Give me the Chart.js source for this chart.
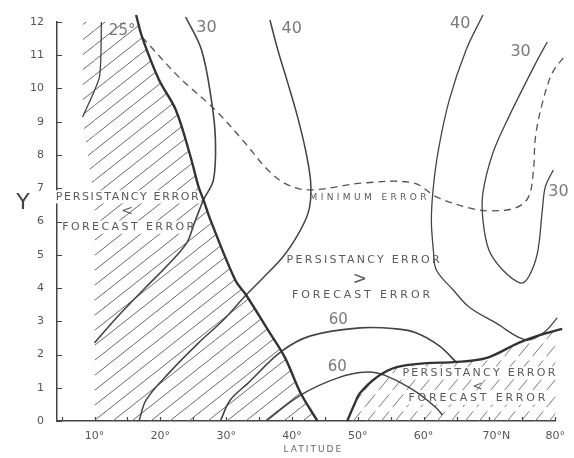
<!DOCTYPE html>
<html lang="en">
<head>
<meta charset="utf-8">
<title>Persistency error vs forecast error</title>
<script src="https://cdn.jsdelivr.net/npm/chart.js@4.4.1/dist/chart.umd.min.js"></script>
<style>
  html, body { margin: 0; padding: 0; background: #fff; }
  canvas { display: block; }
</style>
</head>
<body>
<canvas id="errorChart" width="574" height="458"></canvas>
<script>
// axis ticks
const latTicks = [10, 20, 30, 40, 50, 60, 70, 80];
const latTickLabels = ['10°', '20°', '30°', '40°', '50°', '60°', '70°N', '80°'];
const latMinorTicks = [5, 15, 25, 35, 45, 55, 65, 75];

// curves as [latitude, Y] pairs
const westBoundary = [[16.32, 12.21], [17.22, 11.55], [19.79, 10.26], [22.34, 9.36], [24.6, 7.94],
  [25.81, 7.04], [26.56, 6.65], [27.61, 6.05], [31.38, 4.24], [33.03, 3.79], [36.34, 2.74],
  [38.9, 1.92], [41.31, 0.84], [43.87, 0]];
const eastBoundary = [[48.39, 0], [49.44, 0.48], [50.34, 0.84], [52.9, 1.32], [55.91, 1.62],
  [60.43, 1.74], [64.5, 1.77], [69.46, 1.89], [74.43, 2.35], [77.74, 2.59], [81.06, 2.77]];
const hatchWestCore = [[10, 0], [10, 6.6], [10, 12.3]];
const hatchWestSliver = [[8.2, 12.3], [8.2, 9.1], [10, 6.6]];

const contour25 = [[11.05, 12.0], [10.75, 10.35], [8.19, 9.14]];
const contour30West = [[23.85, 12.15], [26.26, 11.16], [27.76, 9.65], [28.37, 8.45], [28.07, 7.25],
  [26.56, 6.65], [25.05, 5.89], [24.0, 5.35], [20.84, 4.63], [17.83, 4.03], [13.31, 3.1], [10.0, 2.35]];
const contour40West = [[36.65, 12.06], [37.85, 11.16], [39.36, 10.17], [40.86, 9.14], [42.06, 8.15],
  [42.82, 7.25], [42.82, 6.65], [42.37, 6.2], [40.86, 5.59], [38.6, 4.93], [35.59, 4.3], [33.03, 3.79],
  [29.57, 3.04], [25.81, 2.35], [21.29, 1.44], [17.83, 0.63], [16.77, 0]];
const contour40East = [[69.01, 12.21], [66.45, 11.16], [63.89, 9.65], [62.24, 8.15], [61.48, 7.04],
  [61.18, 6.05], [61.48, 5.14], [61.94, 4.54], [64.5, 3.94], [66.9, 3.43], [70.97, 2.95],
  [75.48, 2.44], [78.2, 2.65], [80.3, 3.1]];
const contour30East = [[78.79, 11.4], [77.29, 10.86], [72.93, 9.14], [70.52, 8.06], [69.01, 6.86],
  [69.01, 6.05], [69.92, 5.14], [72.02, 4.54], [74.73, 4.15], [75.94, 4.33], [77.29, 5.05],
  [78.04, 6.35], [78.49, 7.04], [79.7, 7.55]];
const contour60Upper = [[29.12, 0], [30.62, 0.63], [33.33, 1.14], [38.3, 2.08], [42.82, 2.56],
  [50.34, 2.8], [55.91, 2.77], [58.92, 2.65], [62.39, 2.26], [64.95, 1.77]];
const contour60Lower = [[36.04, 0], [41.31, 0.78], [46.88, 1.29], [51.4, 1.47], [54.4, 1.35],
  [58.92, 0.87], [61.94, 0.39], [62.85, 0.18]];
const minimumError = [[17.22, 11.55], [22.8, 10.35], [28.37, 9.35], [32.88, 8.36], [36.34, 7.55],
  [39.36, 7.1], [42.82, 6.95], [50.95, 7.16], [58.47, 7.16], [61.94, 6.74], [66.9, 6.41],
  [69.92, 6.32], [73.98, 6.41], [75.94, 6.74], [76.69, 7.55], [76.99, 8.54], [78.04, 9.56],
  [79.55, 10.47], [81.21, 10.92]];

// text placed on the figure (latitude, Y)
const notes = [
  { text: 'PERSISTANCY ERROR', lat: 14.97, y: 6.74, w: 143, size: 11, box: true },
  { text: '<', lat: 14.97, y: 6.32, size: 14 },
  { text: 'FORECAST ERROR', lat: 15.12, y: 5.83, w: 132, size: 11, box: true },
  { text: 'MINIMUM ERROR', lat: 51.55, y: 6.71, w: 117, size: 9 },
  { text: 'PERSISTANCY ERROR', lat: 50.8, y: 4.84, w: 153, size: 11 },
  { text: '>', lat: 50.3, y: 4.24, size: 17 },
  { text: 'FORECAST ERROR', lat: 50.5, y: 3.79, w: 138, size: 11 },
  { text: 'PERSISTANCY ERROR', lat: 68.4, y: 1.44, w: 153, size: 11, box: true },
  { text: '<', lat: 68.2, y: 1.02, size: 12 },
  { text: 'FORECAST ERROR', lat: 68.1, y: 0.69, w: 137, size: 11, box: true },
  { text: '25°', lat: 14.2, y: 11.73, size: 15, light: true },
  { text: '30', lat: 27.0, y: 11.82, size: 16, light: true },
  { text: '40', lat: 39.96, y: 11.8, size: 16, light: true },
  { text: '40', lat: 65.55, y: 11.94, size: 16, light: true },
  { text: '30', lat: 74.73, y: 11.1, size: 16, light: true },
  { text: '30', lat: 80.5, y: 6.89, size: 16, light: true },
  { text: '60', lat: 47.03, y: 3.04, size: 15, light: true },
  { text: '60', lat: 46.88, y: 1.62, size: 15, light: true }
];

function hatchPattern(w, h, broken, color) {
  const tile = document.createElement('canvas');
  tile.width = w;
  tile.height = h;
  const g = tile.getContext('2d');
  g.strokeStyle = color;
  g.lineWidth = 1;
  g.beginPath();
  if (broken) {
    g.moveTo(w * 0.05, h * 0.95);
    g.lineTo(w * 0.8, h * 0.2);
  } else {
    g.moveTo(-1, h + h / w);
    g.lineTo(w + 1, -h / w);
  }
  g.stroke();
  return g.createPattern(tile, 'repeat');
}

const westHatch = hatchPattern(19, 15, false, '#686868');
const eastHatch = hatchPattern(14, 17, true, '#777');

const pts = arr => arr.map(([x, y]) => ({ x: x, y: y }));
const curve = (arr, extra) => Object.assign({
  data: pts(arr),
  borderColor: '#444',
  borderWidth: 1.3,
  pointRadius: 0,
  tension: 0.35,
  fill: false,
  clip: false
}, extra);

const FONT = '"DejaVu Sans", Arial, sans-serif';

const decor = {
  id: 'decor',
  beforeDatasetsDraw(chart) {
    const { ctx, scales: { x, y } } = chart;
    ctx.save();
    ctx.fillStyle = '#fff';
    notes.filter(n => n.box).forEach(n => {
      const px = x.getPixelForValue(n.lat);
      const py = y.getPixelForValue(n.y);
      ctx.fillRect(px - n.w / 2 - 2, py - 6.5, n.w + 4, 13);
    });
    ctx.restore();
  },
  afterDatasetsDraw(chart) {
    const { ctx, chartArea, scales: { x, y } } = chart;
    ctx.save();
    ctx.textBaseline = 'middle';
    notes.forEach(n => {
      const px = x.getPixelForValue(n.lat);
      const py = y.getPixelForValue(n.y);
      ctx.font = n.size + 'px ' + FONT;
      ctx.fillStyle = n.light ? '#7a7a7a' : '#5a5a5a';
      if (n.w) {
        ctx.letterSpacing = '0px';
        const plain = ctx.measureText(n.text).width;
        const gap = (n.w - plain) / (n.text.length - 1);
        ctx.letterSpacing = gap + 'px';
        ctx.textAlign = 'left';
        ctx.fillText(n.text, px - n.w / 2, py);
        ctx.letterSpacing = '0px';
      } else {
        ctx.textAlign = 'center';
        ctx.fillText(n.text, px, py);
      }
    });

    // inward tick marks
    ctx.strokeStyle = '#444';
    ctx.lineWidth = 1.2;
    ctx.beginPath();
    for (let v = 0; v <= 12; v++) {
      const py = Math.round(y.getPixelForValue(v)) + 0.5;
      ctx.moveTo(chartArea.left, py);
      ctx.lineTo(chartArea.left + 5, py);
    }
    latTicks.concat(latMinorTicks).forEach(v => {
      const px = Math.round(x.getPixelForValue(v)) + 0.5;
      ctx.moveTo(px, chartArea.bottom);
      ctx.lineTo(px, chartArea.bottom - 4);
    });
    ctx.stroke();

    // axis titles
    ctx.fillStyle = '#444';
    ctx.textAlign = 'center';
    ctx.font = '22px ' + FONT;
    ctx.fillText('Y', chartArea.left - 34, y.getPixelForValue(6.56));
    ctx.font = '9px ' + FONT;
    ctx.fillStyle = '#666';
    ctx.letterSpacing = '2px';
    ctx.fillText('LATITUDE', x.getPixelForValue(43.1) + 1, chartArea.bottom + 29);
    ctx.restore();
  }
};

new Chart(document.getElementById('errorChart'), {
  type: 'line',
  data: {
    datasets: [
      curve(hatchWestCore.concat(westBoundary), {
        borderColor: 'transparent', borderWidth: 0, backgroundColor: westHatch, fill: 'origin'
      }),
      curve(hatchWestSliver, {
        borderColor: 'transparent', borderWidth: 0, backgroundColor: westHatch, fill: 'end', tension: 0
      }),
      curve(eastBoundary, { borderColor: '#333', borderWidth: 2.4, backgroundColor: eastHatch, fill: 'origin' }),
      curve(westBoundary, { borderColor: '#333', borderWidth: 2.4 }),
      curve(contour25, { tension: 0.2 }),
      curve(contour30West, { borderWidth: 1.6 }),
      curve(contour40West, { borderWidth: 1.5 }),
      curve(contour40East),
      curve(contour30East),
      curve(contour60Upper, { borderWidth: 1.6 }),
      curve(contour60Lower, { borderWidth: 1.5 }),
      curve(minimumError, { borderColor: '#555', borderDash: [7, 5] })
    ]
  },
  options: {
    responsive: false,
    devicePixelRatio: 1,
    animation: false,
    events: [],
    layout: { padding: { top: 22, right: 12, left: 0, bottom: 0 } },
    plugins: {
      legend: { display: false },
      tooltip: { enabled: false },
      filler: { drawTime: 'beforeDatasetsDraw' }
    },
    scales: {
      x: {
        type: 'linear',
        min: 4.3,
        max: 80,
        afterFit: s => { s.height = 37; },
        afterBuildTicks: s => {
          s.ticks = latMinorTicks.concat(latTicks).sort((a, b) => a - b).map(v => ({ value: v }));
        },
        grid: { display: true, drawOnChartArea: false, drawTicks: false },
        border: { display: true, color: '#444', width: 1.5 },
        ticks: {
          autoSkip: false,
          maxRotation: 0,
          padding: 9,
          color: '#555',
          font: { family: FONT, size: 11 },
          callback: v => {
            const i = latTicks.indexOf(v);
            if (i < 0) return '';
            const label = latTickLabels[i];
            // keep the number itself centred on its tick
            return label.endsWith('N') ? '\u2007\u2007' + label : label;
          }
        }
      },
      y: {
        min: 0,
        max: 12,
        afterFit: s => { s.width = 57; },
        grid: { display: true, drawOnChartArea: false, drawTicks: false },
        border: { display: true, color: '#444', width: 1.5 },
        ticks: {
          stepSize: 1,
          padding: 13,
          color: '#555',
          font: { family: FONT, size: 11 }
        }
      }
    }
  },
  plugins: [decor]
});
</script>
</body>
</html>
